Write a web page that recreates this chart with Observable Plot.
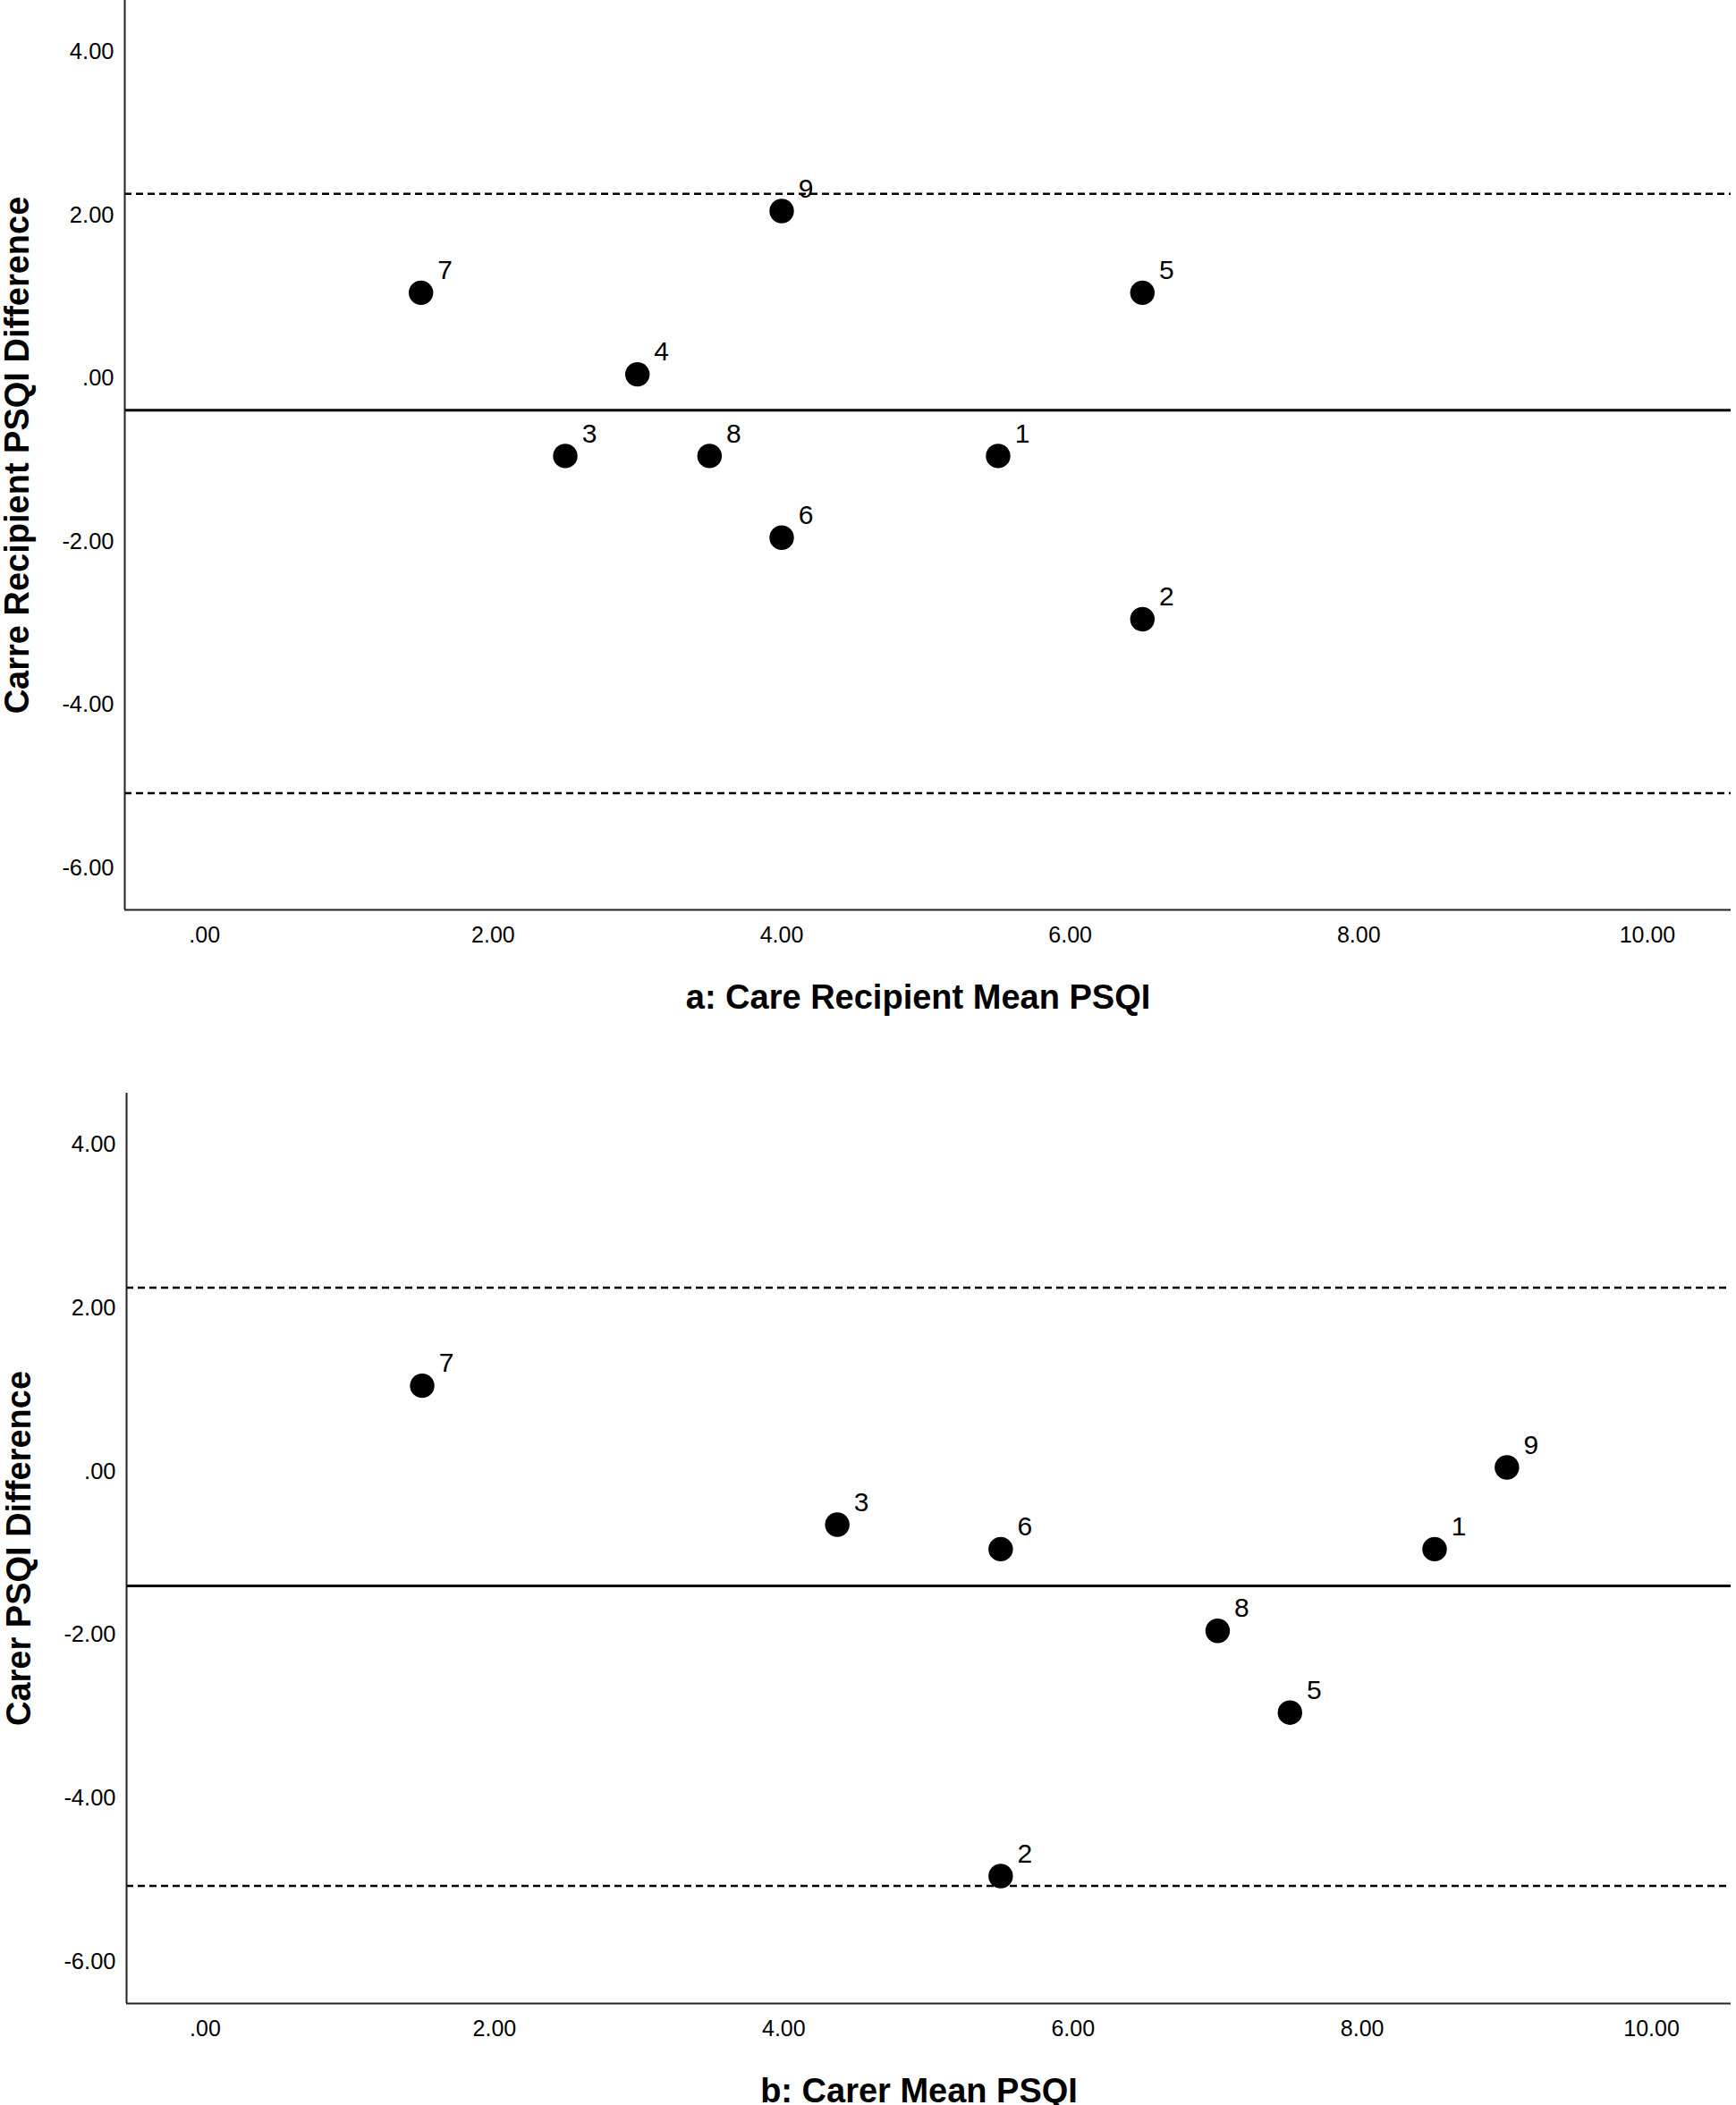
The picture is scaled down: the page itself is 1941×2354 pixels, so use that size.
<!DOCTYPE html>
<html>
<head>
<meta charset="utf-8">
<script src="https://cdn.jsdelivr.net/npm/d3@7"></script>
<script src="https://cdn.jsdelivr.net/npm/@observablehq/plot@0.6"></script>
<style>
  html, body { margin: 0; padding: 0; background: white; }
  #chart svg { display: block; }
</style>
</head>
<body>
<div id="chart"></div>
<script>
// ---- Data ----
// Panel a: care recipients
const aIds = [1, 2, 3, 4, 5, 6, 7, 8, 9];
const aMean = [5.5, 6.5, 2.5, 3.0, 6.5, 4.0, 1.5, 3.5, 4.0];
const aDiff = [-1, -3, -1, 0, 1, -2, 1, -1, 2];
const aMeanDiff = -0.44;
const aUpper = 2.21;
const aLower = -5.13;

// Panel b: carers
const bIds = [1, 2, 3, 5, 6, 7, 8, 9];
const bMean = [8.5, 5.5, 4.37, 7.5, 5.5, 1.5, 7.0, 9.0];
const bDiff = [-1, -5, -0.7, -3, -1, 1, -2, 0];
const bMeanDiff = -1.45;
const bUpper = 2.2;
const bLower = -5.12;

// Axes
const xTicks = [0, 2, 4, 6, 8, 10];
const yTicks = [-6, -4, -2, 0, 2, 4];
const aXDomain = [-0.553, 10.58];
const bXDomain = [-0.544, 10.55];
const yDomain = [-6.56, 4.58];

const titles = {
  aX: "a: Care Recipient Mean PSQI",
  aY: "Carre Recipient PSQI Difference",
  bX: "b: Carer Mean PSQI",
  bY: "Carer PSQI Difference"
};

// SPSS-like format: ".00", "2.00", "-4.00"
const fmt = d => d.toFixed(2).replace(/^(-?)0\./, "$1.");

function panel({ids, mean, diff, meanDiff, upper, lower, xDomain, xTitle, yTitle, height, marginTop, marginBottom, marginLeft}) {
  const rows = ids.map((id, i) => ({id: String(id), x: mean[i], y: diff[i]}));
  return Plot.plot({
    width: 1941,
    height,
    marginTop,
    marginBottom,
    marginLeft,
    marginRight: 6,
    style: {fontFamily: "'Liberation Sans', Arial, sans-serif", fontSize: "25px", background: "white", color: "black", overflow: "visible"},
    x: {domain: xDomain, label: null, axis: null},
    y: {domain: yDomain, label: null, axis: null},
    marks: [
      Plot.axisX(xTicks, {tickSize: 0, tickPadding: 19, tickFormat: fmt, fontSize: 25, label: null}),
      Plot.axisY(yTicks, {tickSize: 0, tickPadding: 12, tickFormat: fmt, fontSize: 25.5, dy: 4.5, label: null}),
      Plot.ruleY([upper], {stroke: "black", strokeWidth: 2.5, strokeDasharray: "8,5"}),
      Plot.ruleY([lower], {stroke: "black", strokeWidth: 2.5, strokeDasharray: "8,5"}),
      Plot.ruleY([meanDiff], {stroke: "black", strokeWidth: 3}),
      Plot.ruleX([xDomain[0]], {stroke: "#222", strokeWidth: 2}),
      Plot.ruleY([yDomain[0]], {stroke: "#222", strokeWidth: 2}),
      Plot.dot(rows, {x: "x", y: "y", r: 13.7, fill: "black", stroke: "none"}),
      Plot.text(rows, {x: "x", y: "y", text: "id", dx: 27, dy: -25, fontSize: 30, fill: "black"}),
      Plot.text([xTitle], {text: d => d, frameAnchor: "bottom", lineAnchor: "middle", textAnchor: "middle", dy: 98, dx: -11, fontSize: 38, fontWeight: "bold", fill: "black"}),
      Plot.text([yTitle], {text: d => d, frameAnchor: "left", lineAnchor: "middle", textAnchor: "middle", rotate: -90, dx: -120, fontSize: 38, fontWeight: "bold", fill: "black"})
    ]
  });
}

const chart = document.getElementById("chart");
chart.appendChild(panel({
  ids: aIds, mean: aMean, diff: aDiff, meanDiff: aMeanDiff, upper: aUpper, lower: aLower,
  xDomain: aXDomain, xTitle: titles.aX, yTitle: titles.aY,
  height: 1175, marginTop: 0, marginBottom: 158, marginLeft: 139
}));
chart.appendChild(panel({
  ids: bIds, mean: bMean, diff: bDiff, meanDiff: bMeanDiff, upper: bUpper, lower: bLower,
  xDomain: bXDomain, xTitle: titles.bX, yTitle: titles.bY,
  height: 1179, marginTop: 47, marginBottom: 114, marginLeft: 141
}));
</script>
</body>
</html>
